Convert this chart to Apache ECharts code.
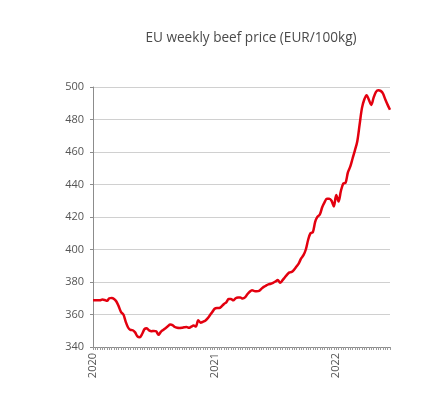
<!DOCTYPE html>
<html>
<head>
<meta charset="utf-8">
<script src="https://cdn.jsdelivr.net/npm/echarts@6/dist/echarts.min.js"></script>
<style>html,body{margin:0;padding:0;background:#fff}#c{width:433px;height:401px}</style>
</head>
<body>
<div id="c"></div>
<script>
var titleText = 'EU weekly beef price (EUR/100kg)';
var yearLabels = ['2020', '2021', '2022'];
var weeksPerYear = 52;
var prices = [
  368.7, 368.7, 368.7, 368.7, 369.2, 368.9, 368.4, 370.0, 370.2, 369.6,
  368.0, 365.0, 361.5, 360.0, 355.5, 352.0, 350.5, 350.3, 349.0, 346.5,
  346.0, 348.0, 351.0, 351.5, 350.2, 349.7, 349.9, 349.7, 347.5, 349.3,
  350.5, 351.6, 352.7, 353.8, 353.5, 352.3, 351.8, 351.7, 351.8, 352.1,
  352.3, 351.8, 352.5, 353.3, 352.6, 356.5, 355.0, 355.5, 356.2, 357.6,
  359.5, 361.5, 363.5, 364.0, 364.0, 365.0, 366.5, 367.5, 369.5, 369.5,
  368.7, 370.0, 370.4, 370.4, 369.9, 370.5, 372.5, 374.0, 374.9, 374.4,
  374.3, 374.5, 375.8, 377.0, 377.8, 378.5, 378.9, 379.5, 380.3, 381.2,
  379.5, 381.0, 382.8, 384.5, 385.9, 386.2, 387.6, 389.5, 391.5, 394.5,
  396.5, 400.0, 406.0, 410.0, 410.6, 417.0, 420.2, 421.5, 426.0, 429.0,
  431.2, 431.2, 430.0, 426.5, 433.5, 429.5, 436.0, 440.5, 441.0, 447.5,
  451.0, 456.0, 461.0, 466.5, 476.8, 487.0, 492.3, 495.0, 492.0, 489.0,
  493.5, 497.0, 498.0, 497.6, 496.0, 492.3, 489.0, 486.0
];
var categories = [];
for (var i = 0; i < prices.length; i++) {
  var yr = yearLabels[0] * 1 + Math.floor(i / weeksPerYear);
  var wk = (i % weeksPerYear) + 1;
  categories.push(yr + '-W' + (wk < 10 ? '0' + wk : wk));
}

var chart = echarts.init(document.getElementById('c'), null, {renderer: 'canvas'});
chart.setOption({
  animation: false,
  backgroundColor: '#ffffff',
  title: {
    text: titleText,
    left: 246, top: 26, textAlign: 'center',
    textStyle: {fontFamily: 'Open Sans', fontSize: 13.6, fontWeight: 'normal', color: '#4a4a4a'}
  },
  grid: {left: 93, right: 43, top: 87, bottom: 54, containLabel: false},
  xAxis: {
    type: 'category',
    data: categories,
    boundaryGap: false,
    axisLine: {lineStyle: {color: '#8c8c8c', width: 1}},
    axisTick: {show: true, interval: 0, length: 3, lineStyle: {color: '#9a9a9a'}},
    axisLabel: {
      interval: function (idx, val) { return /-W01$/.test(val); },
      formatter: function (val) { return val.slice(0, 4); },
      rotate: 90, margin: 6,
      fontFamily: 'Open Sans', fontSize: 11, color: '#555'
    },
    splitLine: {show: false}
  },
  yAxis: {
    type: 'value',
    min: 340, max: 500, interval: 20,
    axisLine: {show: true, lineStyle: {color: '#8c8c8c', width: 1}},
    axisTick: {show: true, length: 3, lineStyle: {color: '#8c8c8c'}},
    axisLabel: {fontFamily: 'Open Sans', fontSize: 11, color: '#555', margin: 9},
    splitLine: {show: true, lineStyle: {color: '#d0d0d0', width: 1}}
  },
  series: [{
    type: 'line',
    data: prices,
    smooth: 0.3,
    showSymbol: false,
    lineStyle: {color: '#e3000f', width: 2.5}
  }]
});
</script>
</body>
</html>
